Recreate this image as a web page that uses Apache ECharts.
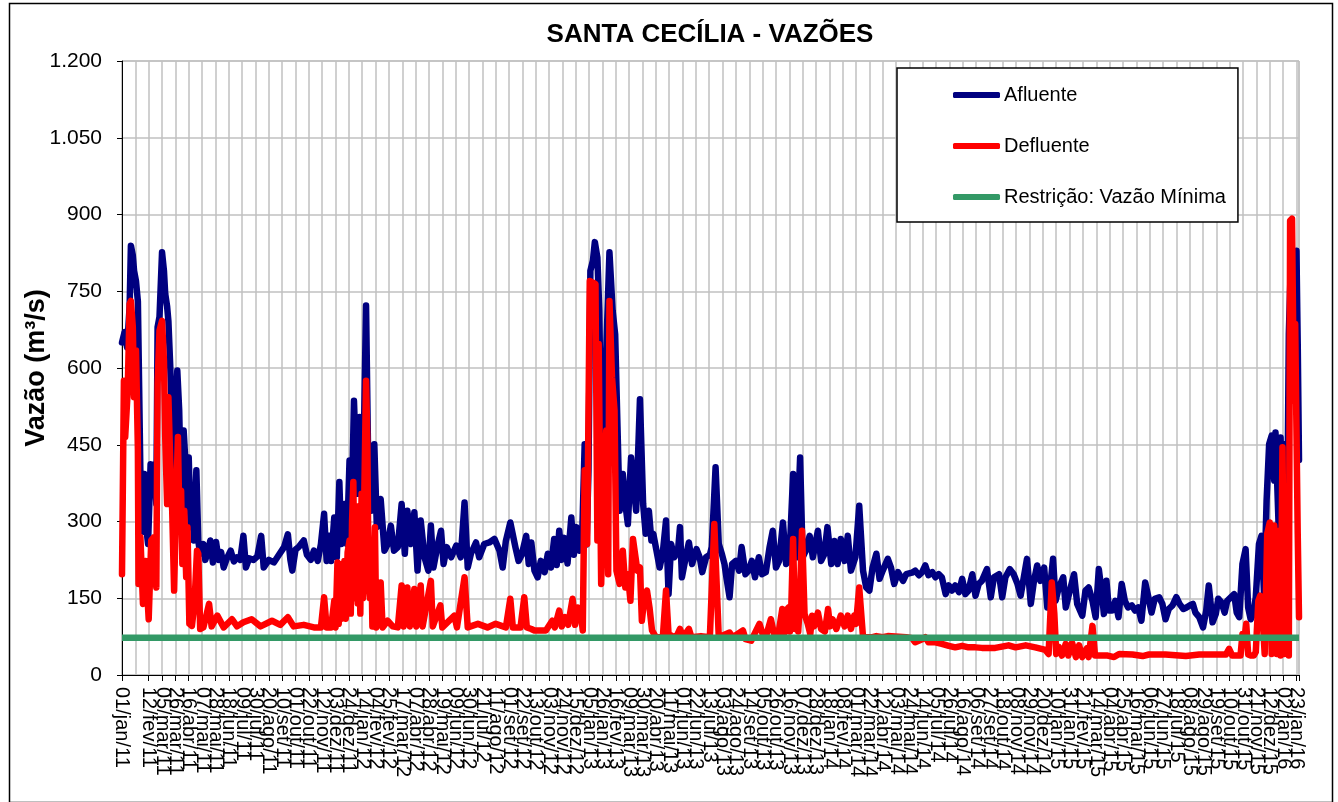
<!DOCTYPE html>
<html><head><meta charset="utf-8">
<script src="https://cdn.jsdelivr.net/npm/echarts@6/dist/echarts.min.js"></script>
<style>html,body{margin:0;padding:0;background:#fff}#c{width:1338px;height:802px}</style>
</head><body><div id="c"></div>
<script>
// x positions are days counted from 01/jan/11
const xTickLabels = ["01/jan/11","22/jan/11","12/fev/11","05/mar/11","26/mar/11","16/abr/11","07/mai/11","28/mai/11","18/jun/11","09/jul/11","30/jul/11","20/ago/11","10/set/11","01/out/11","22/out/11","12/nov/11","03/dez/11","24/dez/11","14/jan/12","04/fev/12","25/fev/12","17/mar/12","07/abr/12","28/abr/12","19/mai/12","09/jun/12","30/jun/12","21/jul/12","11/ago/12","01/set/12","22/set/12","13/out/12","03/nov/12","24/nov/12","15/dez/12","05/jan/13","26/jan/13","16/fev/13","09/mar/13","30/mar/13","20/abr/13","11/mai/13","01/jun/13","22/jun/13","13/jul/13","03/ago/13","24/ago/13","14/set/13","05/out/13","26/out/13","16/nov/13","07/dez/13","28/dez/13","18/jan/14","08/fev/14","01/mar/14","22/mar/14","12/abr/14","03/mai/14","24/mai/14","14/jun/14","05/jul/14","26/jul/14","16/ago/14","06/set/14","27/set/14","18/out/14","08/nov/14","29/nov/14","20/dez/14","10/jan/15","31/jan/15","21/fev/15","14/mar/15","04/abr/15","25/abr/15","16/mai/15","06/jun/15","27/jun/15","18/jul/15","08/ago/15","29/ago/15","19/set/15","10/out/15","31/out/15","21/nov/15","12/dez/15","02/jan/16","23/jan/16"];

const afluente = [
[0,650],[4,670],[8,640],[12,720],[14,839],[17,820],[19,790],[22,770],[25,730],[27,560],[30,300],[33,280],[35,393],[38,290],[41,256],[45,412],[49,400],[51,412],[54,334],[56,680],[59,700],[63,826],[66,790],[68,745],[71,720],[73,692],[76,600],[79,484],[81,380],[84,491],[87,595],[90,517],[93,347],[97,478],[100,412],[102,321],[105,425],[108,289],[111,360],[113,263],[117,400],[120,263],[123,237],[128,256],[131,225],[135,240],[139,263],[143,220],[148,260],[152,225],[156,240],[160,210],[165,228],[171,243],[176,222],[181,230],[186,225],[191,272],[195,210],[200,228],[207,225],[213,232],[219,272],[223,210],[231,225],[239,220],[247,235],[255,250],[261,275],[265,225],[268,204],[273,245],[278,250],[286,263],[291,235],[297,225],
[302,243],[308,223],[313,256],[318,315],[322,223],[326,272],[329,223],[334,308],[338,230],[342,377],[345,256],[350,334],[354,256],[358,419],[362,354],[365,536],[370,354],[374,504],[379,347],[384,722],[387,451],[392,321],[397,451],[401,289],[407,344],[413,243],[418,256],[423,292],[428,243],[434,250],[440,334],[445,237],[449,321],[455,256],[460,318],[465,204],[470,302],[476,230],[482,204],[486,292],[490,210],[496,250],[502,282],[506,217],[511,250],[518,230],[526,253],[533,230],[539,337],[544,210],[549,237],[557,259],[562,230],[570,256],[578,259],[586,266],[594,243],[599,210],[604,262],[611,298],
[619,250],[624,223],[629,235],[636,272],[640,217],[644,259],[649,204],[654,191],[659,223],[665,201],[670,237],[675,210],[680,266],[684,215],[688,282],[692,225],[696,268],[701,218],[707,308],[711,235],[715,289],[720,243],[724,268],[728,451],[731,255],[734,400],[737,790],[741,810],[744,846],[748,816],[751,712],[754,451],[757,354],[759,484],[762,634],[767,826],[772,712],[776,666],[779,517],[783,321],[788,393],[792,334],[796,295],[801,425],[805,373],[809,321],[815,539],[820,334],[824,276],[829,321],[833,263],[836,276],[841,243],[846,210],[851,240],[856,302],[860,158],[864,256],[869,230],[875,245],[878,289],[881,191],[887,230],[892,259],[897,217],[904,246],[909,230],[913,201],[919,230],[925,235],
[928,250],[934,406],[939,256],[944,236],[948,217],[951,191],[956,152],[960,217],[966,223],[971,204],[975,250],[981,197],[986,204],[991,223],[996,191],[1002,230],[1007,197],[1013,201],[1019,250],[1024,282],[1029,210],[1034,223],[1040,298],[1045,217],[1050,223],[1056,393],[1061,230],[1067,425],[1071,230],[1076,243],[1082,272],[1087,230],[1095,282],[1100,223],[1105,236],[1110,289],[1116,217],[1121,262],[1126,217],[1131,266],[1137,223],[1142,272],[1147,204],[1154,230],[1160,331],[1166,204],[1171,171],[1176,165],[1181,210],[1187,237],[1192,188],[1197,204],[1205,227],[1210,210],[1215,178],[1221,201],[1229,184],[1234,197],
[1243,200],[1248,204],[1254,195],[1259,201],[1264,214],[1269,195],[1275,201],[1280,191],[1285,197],[1290,191],[1296,158],[1301,175],[1306,165],[1311,175],[1317,162],[1322,188],[1327,158],[1332,165],[1338,197],[1343,155],[1348,178],[1353,184],[1361,207],[1367,152],[1372,191],[1380,197],[1385,152],[1390,191],[1397,207],[1403,197],[1409,178],[1414,155],[1419,191],[1424,227],[1430,139],[1435,184],[1440,214],[1445,184],[1451,210],[1456,132],[1461,178],[1465,227],[1469,145],[1474,171],[1481,191],[1485,132],[1490,158],[1498,197],[1503,139],[1511,116],[1516,165],[1521,171],[1527,145],[1532,113],[1537,207],[1542,158],
[1545,119],[1549,184],[1553,126],[1558,126],[1563,145],[1568,113],[1573,178],[1578,145],[1583,132],[1589,136],[1594,126],[1599,132],[1604,106],[1610,181],[1615,152],[1620,122],[1625,149],[1632,152],[1637,139],[1642,109],[1647,129],[1653,136],[1659,152],[1664,139],[1670,129],[1675,132],[1680,136],[1685,139],[1689,122],[1695,113],[1701,93],[1706,126],[1710,175],[1716,103],[1721,119],[1725,149],[1730,142],[1735,122],[1739,145],[1745,152],[1750,158],[1754,122],[1758,113],[1763,217],[1768,246],[1772,132],[1776,109],[1780,119],[1784,152],[1789,256],[1793,272],[1797,158],[1801,341],[1805,451],[1809,468],[1813,380],[1815,474],[1820,289],[1823,464],[1826,320],[1829,451],[1833,243],[1836,666],[1839,797],[1844,601],[1848,829],[1850,647],[1852,420]
];

const defluente = [
[0,197],[3,575],[5,465],[9,556],[12,725],[14,731],[17,680],[19,543],[22,634],[25,440],[26,178],[29,269],[33,139],[37,223],[42,109],[46,263],[50,269],[54,171],[56,569],[59,673],[63,692],[66,614],[68,465],[71,334],[73,543],[76,412],[79,321],[82,165],[85,334],[88,465],[90,321],[93,360],[95,217],[98,321],[101,191],[103,289],[106,100],[110,96],[114,139],[118,243],[120,237],[123,90],[128,93],[132,113],[137,139],[141,95],[150,116],[160,93],[173,109],[181,95],[191,103],[204,109],[218,95],[236,106],[249,98],[261,113],[270,95],[286,98],[302,93],
[313,93],[318,152],[322,93],[329,93],[334,145],[336,93],[339,220],[341,100],[343,217],[346,110],[350,223],[352,110],[355,240],[358,263],[360,120],[362,300],[364,377],[366,150],[369,330],[371,140],[373,300],[375,120],[377,354],[379,150],[381,330],[384,575],[386,465],[388,178],[390,150],[392,256],[394,95],[398,289],[400,93],[407,181],[410,93],[418,106],[426,95],[434,93],[440,175],[443,95],[449,171],[453,95],[460,168],[463,95],[470,175],[473,95],[486,184],[489,95],[501,136],[504,93],[523,116],[527,93],[539,191],[544,93],[560,100],[575,93],[588,100],[604,93],[611,149],[615,93],
[627,93],[633,152],[637,93],[644,90],[649,87],[656,87],[667,87],[677,106],[681,93],[688,126],[692,95],[697,113],[702,98],[709,149],[713,98],[717,132],[722,120],[725,87],[728,400],[732,256],[736,770],[741,767],[745,764],[748,263],[750,647],[754,178],[758,386],[762,478],[765,197],[767,731],[771,582],[775,517],[778,204],[783,178],[788,243],[792,171],[796,197],[800,145],[804,266],[808,230],[811,204],[815,210],[818,106],[822,152],[826,165],[830,132],[834,87],[840,74],[851,74],[856,165],[860,80],[866,76],[872,74],[878,90],[883,74],[892,90],[896,74],[911,76],[925,74],
[932,295],[935,295],[939,74],[956,83],[961,74],[977,87],[981,70],[990,67],[1003,100],[1008,80],[1013,74],[1021,109],[1026,80],[1032,74],[1039,129],[1042,80],[1044,125],[1049,132],[1051,85],[1053,128],[1056,266],[1059,90],[1061,125],[1064,85],[1066,125],[1070,282],[1074,119],[1079,100],[1083,80],[1086,116],[1089,95],[1095,122],[1100,90],[1106,85],[1111,129],[1114,95],[1118,109],[1124,90],[1131,116],[1137,95],[1142,116],[1147,90],[1152,116],[1155,100],[1160,171],[1166,74],[1181,74],[1187,76],[1197,74],[1205,76],[1234,74],
[1243,72],[1248,64],[1259,70],[1264,74],[1269,64],[1280,64],[1290,61],[1301,57],[1311,54],[1322,57],[1332,54],[1343,54],[1353,53],[1374,53],[1395,58],[1406,54],[1422,58],[1437,54],[1453,49],[1458,41],[1463,181],[1467,120],[1470,41],[1474,55],[1479,38],[1485,61],[1489,38],[1495,63],[1501,35],[1506,58],[1511,35],[1518,52],[1521,35],[1527,96],[1531,38],[1542,38],
[1551,38],[1561,35],[1569,41],[1590,40],[1606,37],[1616,40],[1642,40],[1674,37],[1695,40],[1737,40],[1742,51],[1747,38],[1760,38],[1763,80],[1767,80],[1769,100],[1772,40],[1776,38],[1781,38],[1784,45],[1788,145],[1791,155],[1795,106],[1798,41],[1802,276],[1806,298],[1809,41],[1813,292],[1817,41],[1820,282],[1823,38],[1826,445],[1829,41],[1833,276],[1836,38],[1838,888],[1841,892],[1844,536],[1846,686],[1850,276],[1852,113]
];

const restricao = [[0,73],[1852,73]];

const FONT = "'Liberation Sans', Arial, sans-serif";
const chart = echarts.init(document.getElementById('c'));
function milhar(v){ return String(v).replace(/\B(?=(\d{3})+(?!\d))/g, '.'); }

const lineBase = { type:'line', showSymbol:false, symbol:'none', animation:false };

chart.setOption({
  backgroundColor:'#ffffff',
  animation:false,
  title:{ text:'SANTA CECÍLIA - VAZÕES', left:705, top:17, textAlign:'center',
    textStyle:{ fontFamily:FONT, fontSize:26, fontWeight:'bold', color:'#000' } },
  grid:{ left:122, right:39, top:61, bottom:127, show:true, borderColor:'#a6a6a6', borderWidth:1, backgroundColor:'#fff' },
  legend:{ orient:'vertical', left:897, top:68, padding:[17,12,15,56], itemGap:31,
    itemWidth:47, itemHeight:6, icon:'roundRect',
    borderColor:'#000', borderWidth:1.5, backgroundColor:'#fff',
    textStyle:{ fontFamily:FONT, fontSize:20, color:'#000', padding:[0,0,0,-1] },
    data:['Afluente','Defluente','Restrição: Vazão Mínima'] },
  xAxis:{ type:'value', min:0, max:1852, interval:21,
    axisLine:{ lineStyle:{ color:'#000', width:1 } },
    axisTick:{ show:true, length:6, lineStyle:{ color:'#000' } },
    splitLine:{ show:true, lineStyle:{ color:'#c0c0c0', width:1.5 } },
    axisLabel:{ rotate:-90, margin:12, fontFamily:FONT, fontSize:20, color:'#000', hideOverlap:false,
      showMinLabel:true, showMaxLabel:true,
      formatter:function(v){ const k = v/21; return Number.isInteger(k) && xTickLabels[k] ? xTickLabels[k] : ''; } } },
  yAxis:{ type:'value', min:0, max:1200, interval:150,
    name:'Vazão (m³/s)', nameLocation:'middle', nameGap:72, nameRotate:90, nameMoveOverlap:false,
    nameTextStyle:{ fontFamily:FONT, fontSize:27, fontWeight:'bold', color:'#000' },
    axisLine:{ show:true, lineStyle:{ color:'#000', width:1 } },
    axisTick:{ show:true, length:5, lineStyle:{ color:'#000' } },
    splitLine:{ show:true, lineStyle:{ color:'#c0c0c0', width:1.5 } },
    axisLabel:{ margin:20, fontFamily:FONT, fontSize:21, color:'#000', formatter:milhar } },
  series:[
    Object.assign({}, lineBase, { name:'Afluente', data:afluente, color:'#000080',
      lineStyle:{ color:'#000080', width:6.5, join:'round', cap:'round' }, z:2 }),
    Object.assign({}, lineBase, { name:'Defluente', data:defluente, color:'#ff0000',
      lineStyle:{ color:'#ff0000', width:6.5, join:'round', cap:'round' }, z:3 }),
    Object.assign({}, lineBase, { name:'Restrição: Vazão Mínima', data:restricao, color:'#339966',
      lineStyle:{ color:'#339966', width:6.5 }, z:4 })
  ],
  graphic:[{ type:'rect', left:7, top:1, shape:{ x:0, y:0, width:1323, height:799 },
    style:{ fill:'none', stroke:'#000', lineWidth:1.5 }, silent:true, z:-1 }]
});
</script></body></html>
